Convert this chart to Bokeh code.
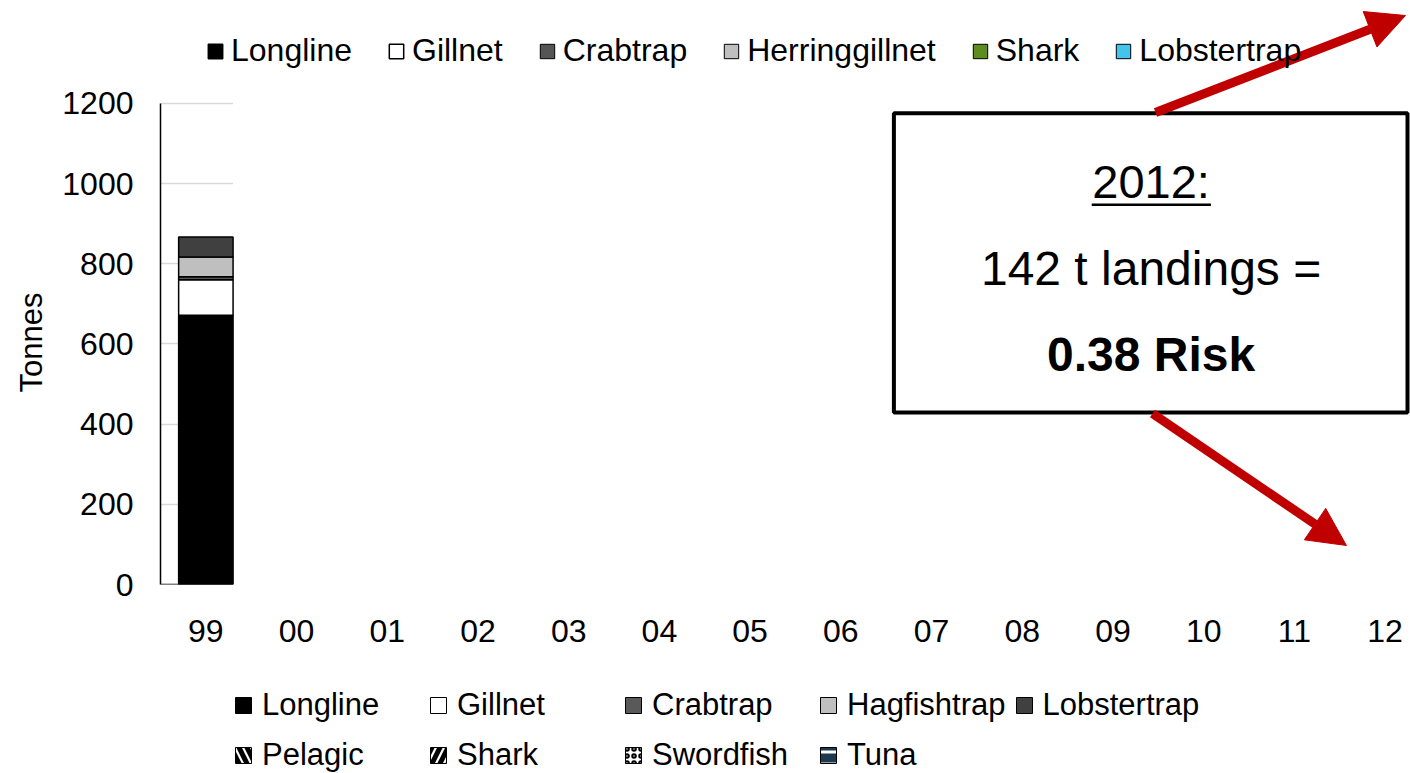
from bokeh.plotting import figure
from bokeh.layouts import column
from bokeh.models import (Range1d, FixedTicker, Legend, LegendItem, BoxAnnotation,
                          Label, Arrow, NormalHead, ColumnDataSource, Title)
from bokeh.embed import file_html
from bokeh.resources import INLINE

# ---------------- data ----------------
years = ["99", "00", "01", "02", "03", "04", "05", "06", "07", "08", "09", "10", "11", "12"]
bar_years = ["99"]
longline = [672]
gillnet = [88]
crabtrap = [8]
hagfishtrap = [49]
lobstertrap = [50]
stack_names = ["Longline", "Gillnet", "Crabtrap", "Hagfishtrap", "Lobstertrap"]
stack_colors = ["#000000", "#ffffff", "#595959", "#bfbfbf", "#404040"]
y_ticks = [0, 200, 400, 600, 800, 1000, 1200]
y_title = "Tonnes"
note_year = "2012:"
note_landings = "142 t landings ="
note_risk = "0.38 Risk"

FONT = "Liberation Sans"
NAN = float("nan")

p = figure(width=1410, height=674, x_range=Range1d(-0.5, 13.28), y_range=Range1d(0, 1437),
           output_backend="svg", toolbar_location=None,
           min_border_left=160, min_border_right=0, min_border_top=8, min_border_bottom=90)
p.outline_line_color = None
p.background_fill_color = "white"

src = ColumnDataSource(dict(x=[years.index(y) for y in bar_years], Longline=longline,
                            Gillnet=gillnet, Crabtrap=crabtrap, Hagfishtrap=hagfishtrap,
                            Lobstertrap=lobstertrap))
bars = p.vbar_stack(stack_names, x="x", width=0.6, source=src, fill_color=stack_colors,
                    line_color="black", line_width=1.5)
r_long, r_gill, r_crab, r_hag, r_lob = bars


def swatch(fig, **kw):
    # legend-only renderer: one undefined (NaN) point, so nothing is drawn in the plot
    s = ColumnDataSource(dict(x=[NAN], top=[NAN]))
    return fig.vbar(x="x", top="top", width=0.6, source=s, line_color="black", line_width=1, **kw)


r_herring = swatch(p, fill_color="#bfbfbf")
r_shark_top = swatch(p, fill_color="#5e8c1f")
r_lob_top = swatch(p, fill_color="#42c4ef")
r_crab_top = swatch(p, fill_color="#555555")

# ---------------- axes ----------------
p.xgrid.visible = False
p.ygrid.grid_line_color = "#d9d9d9"
p.ygrid.grid_line_width = 1.5

ya = p.yaxis[0]
ya.ticker = FixedTicker(ticks=y_ticks)
ya.bounds = (0, 1200)
ya.axis_line_color = "black"
ya.axis_line_width = 1.5
ya.major_tick_line_color = None
ya.minor_tick_line_color = None
ya.major_tick_out = 0
ya.minor_tick_out = 0
ya.major_label_text_font = FONT
ya.major_label_text_font_size = "32px"
ya.major_label_text_color = "black"
ya.major_label_standoff = 27

# axis title, placed so that it is centred on the 0-1200 span of the axis
p.add_layout(Title(text=y_title, align="left", offset=192, standoff=22,
                   text_font=FONT, text_font_size="31px", text_font_style="normal",
                   text_color="black"), "left")

xa = p.xaxis[0]
xa.ticker = FixedTicker(ticks=list(range(len(years))))
xa.major_label_overrides = {i: y for i, y in enumerate(years)}
xa.axis_line_color = None
xa.major_tick_line_color = None
xa.minor_tick_line_color = None
xa.major_tick_out = 0
xa.minor_tick_out = 0
xa.major_label_text_font = FONT
xa.major_label_text_font_size = "32px"
xa.major_label_text_color = "black"
xa.major_label_standoff = 35

# hide the gridlines right of the drawn bar
p.add_layout(BoxAnnotation(left=0.3, fill_color="white", fill_alpha=1, line_alpha=0, level="underlay"))
# baseline under the bar
p.add_layout(Arrow(start=None, end=None, x_start=-0.5, y_start=0, x_end=0.3, y_end=0,
                   line_color="black", line_width=1.5))

# ---------------- top legend ----------------
top_items = [LegendItem(label="Longline", renderers=[r_long]),
             LegendItem(label="Gillnet", renderers=[r_gill]),
             LegendItem(label="Crabtrap", renderers=[r_crab_top]),
             LegendItem(label="Herringgillnet", renderers=[r_herring]),
             LegendItem(label="Shark", renderers=[r_shark_top]),
             LegendItem(label="Lobstertrap", renderers=[r_lob_top])]
leg1 = Legend(items=top_items, orientation="horizontal", location=(46, 515),
              glyph_width=18, glyph_height=18, label_standoff=7, spacing=35,
              padding=0, margin=0, border_line_color=None, background_fill_alpha=0,
              label_text_font=FONT, label_text_font_size="32px", label_text_color="black")
p.add_layout(leg1, "center")

# ---------------- call-out ----------------
p.add_layout(BoxAnnotation(left=7.585, right=13.247, top=1175.8, bottom=429.1,
                           fill_color="white", fill_alpha=1, line_color="black", line_alpha=1,
                           line_width=4))
p.add_layout(Label(x=10.42, y=1005.4, text=note_year, text_align="center", text_baseline="middle",
                   text_font=FONT, text_font_size="47px", text_color="black"))
p.add_layout(Arrow(start=None, end=None, x_start=9.766, y_start=947.3, x_end=11.08, y_end=947.3,
                   line_color="black", line_width=2.5))
p.add_layout(Label(x=10.42, y=788.4, text=note_landings, text_align="center", text_baseline="middle",
                   text_font=FONT, text_font_size="48px", text_color="black"))
p.add_layout(Label(x=10.42, y=573.8, text=note_risk, text_align="center", text_baseline="middle",
                   text_font=FONT, text_font_size="48px", text_font_style="bold", text_color="black"))

red = "#c00000"
p.add_layout(Arrow(x_start=10.469, y_start=1177.5, x_end=13.225, y_end=1419.5,
                   line_color=red, line_width=9,
                   end=NormalHead(size=38, fill_color=red, line_color=red)))
p.add_layout(Arrow(x_start=10.436, y_start=426.6, x_end=12.574, y_end=97.3,
                   line_color=red, line_width=9,
                   end=NormalHead(size=38, fill_color=red, line_color=red)))

# ---------------- bottom legend (own strip) ----------------
p2 = figure(width=1410, height=99, x_range=Range1d(0, 1), y_range=Range1d(0, 1),
            output_backend="svg", toolbar_location=None,
            min_border_left=160, min_border_right=0, min_border_top=0, min_border_bottom=0)
p2.outline_line_color = None
p2.axis.visible = False
p2.grid.visible = False

b_long = swatch(p2, fill_color=stack_colors[0])
b_gill = swatch(p2, fill_color=stack_colors[1])
b_crab = swatch(p2, fill_color=stack_colors[2])
b_hag = swatch(p2, fill_color=stack_colors[3])
b_lob = swatch(p2, fill_color=stack_colors[4])
b_pelagic = swatch(p2, fill_color="white", hatch_pattern="\\", hatch_color="black", hatch_weight=5, hatch_scale=16)
b_shark = swatch(p2, fill_color="white", hatch_pattern="/", hatch_color="black", hatch_weight=5, hatch_scale=16)
b_sword = swatch(p2, fill_color="white", hatch_pattern="o", hatch_color="black", hatch_weight=2, hatch_scale=7)
b_tuna = swatch(p2, fill_color="#1e3a50", hatch_pattern="-", hatch_color="white", hatch_weight=3, hatch_scale=12)

bottom_items = [LegendItem(label="Longline", renderers=[b_long]),
                LegendItem(label="Gillnet", renderers=[b_gill]),
                LegendItem(label="Crabtrap", renderers=[b_crab]),
                LegendItem(label="Hagfishtrap", renderers=[b_hag]),
                LegendItem(label="Lobstertrap", renderers=[b_lob]),
                LegendItem(label="Pelagic", renderers=[b_pelagic]),
                LegendItem(label="Shark", renderers=[b_shark]),
                LegendItem(label="Swordfish", renderers=[b_sword]),
                LegendItem(label="Tuna", renderers=[b_tuna])]
leg2 = Legend(items=bottom_items, orientation="horizontal", nrows=2, location=(73, -3),
              glyph_width=20, glyph_height=20, label_standoff=9, spacing=8,
              label_width=158, label_height=42,
              padding=0, margin=0, border_line_color=None, background_fill_alpha=0,
              label_text_font=FONT, label_text_font_size="31px", label_text_color="black")
p2.add_layout(leg2, "center")

open("out.html", "w").write(file_html(column(p, p2, spacing=0), INLINE))
